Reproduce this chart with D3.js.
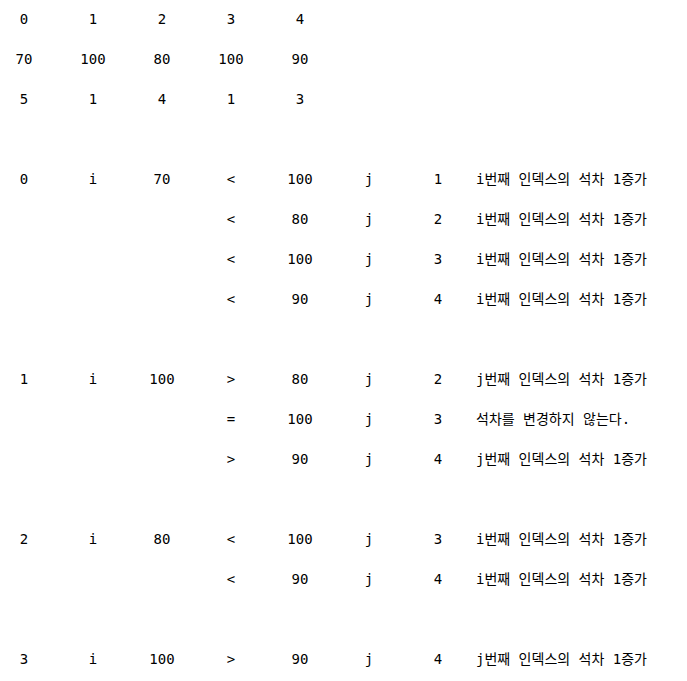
<!DOCTYPE html>
<html><head><meta charset="utf-8">
<script src="https://cdn.jsdelivr.net/npm/d3@7"></script>
<style>body{margin:0;background:#fff}</style>
</head><body><svg id="c" width="687" height="681"></svg>
<script>
const indices = [0,1,2,3,4];
const scores = [70,100,80,100,90];
const ranks = [5,1,4,1,3];
// comparisons: [i, j, op, message]
const compI = [0,0,0,0,1,1,1,2,2,3];
const compJ = [1,2,3,4,2,3,4,3,4,4];
const compOp = ["<","<","<","<",">","=",">","<","<",">"];
const msgI = "i번째 인덱스의 석차 1증가";
const msgJ = "j번째 인덱스의 석차 1증가";
const msgEq = "석차를 변경하지 않는다.";

const svg = d3.select("#c");
const x = d3.scaleLinear().domain([0,6]).range([24,438]);
const y = d3.scaleLinear().domain([0,16]).range([19,659]);
const latin = "'DejaVu Sans Mono', monospace";
const kr = "'Noto Sans CJK KR', sans-serif";

const cells = [];
[indices, scores, ranks].forEach((arr,r)=>arr.forEach((v,c)=>cells.push({r,c,t:String(v)})));
let row = 4, prevI = null;
compI.forEach((i,k)=>{
  if (prevI!==null && i!==prevI) row++;
  const j = compJ[k];
  if (i!==prevI){
    cells.push({r:row,c:0,t:String(i)});
    cells.push({r:row,c:1,t:"i"});
    cells.push({r:row,c:2,t:String(scores[i])});
  }
  cells.push({r:row,c:3,t:compOp[k]});
  cells.push({r:row,c:4,t:String(scores[j])});
  cells.push({r:row,c:5,t:"j"});
  cells.push({r:row,c:6,t:String(j)});
  const m = compOp[k]==="<"?msgI:compOp[k]===">"?msgJ:msgEq;
  cells.push({r:row,c:7,t:m,msg:true});
  prevI = i; row++;
});

svg.selectAll("text").data(cells).join("text")
  .attr("x",d=>d.msg?476:x(d.c))
  .attr("y",d=>y(d.r))
  .attr("dy","0.35em")
  .attr("text-anchor",d=>d.msg?"start":"middle")
  .attr("font-family",d=>d.msg?latin+","+kr:latin)
  .attr("font-size",14)
  .attr("fill","#000")
  .text(d=>d.t);
</script></body></html>
